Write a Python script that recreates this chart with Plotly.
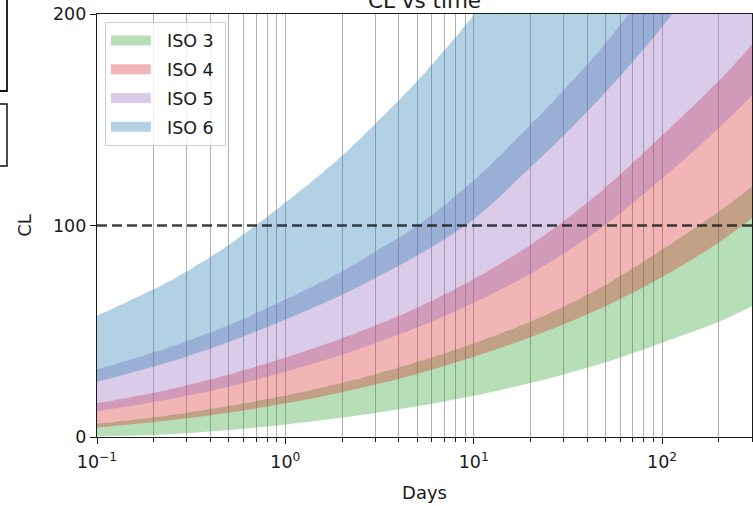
import plotly.graph_objects as go

# Exposure time in days (shared sampling for every band edge)
DAYS = [0.1, 0.2, 0.3, 0.5, 1, 2, 3, 5, 10, 20, 30, 50, 100, 200, 300]

# Lower / upper CL envelopes per ISO class
ISO3_LOW = [0.3, 1.0, 1.8, 3.3, 5.9, 9.2, 11.4, 14.5, 19.5, 25.5, 29.6, 35.3, 44.6, 54.5, 61.8]
ISO3_HIGH = [6.2, 9.25, 11.4, 14.5, 19.5, 25.5, 29.6, 35.3, 44.2, 54.5, 61.6, 71.8, 88.5, 106.5, 118.3]
ISO4_LOW = [4.45, 7.1, 8.9, 11.5, 15.9, 21.2, 24.8, 29.8, 37.9, 47.2, 53.3, 61.8, 75.6, 92.0, 103.4]
ISO4_HIGH = [15.8, 20.8, 24.3, 29.4, 37.5, 46.6, 52.6, 61.0, 74.6, 90.8, 102.0, 117.8, 142.5, 168.3, 185.5]
ISO5_LOW = [12.1, 16.5, 19.5, 23.8, 31.0, 38.9, 44.5, 51.8, 63.5, 77.2, 86.8, 100.4, 122.2, 146.1, 161.6]
ISO5_HIGH = [31.8, 39.9, 45.3, 52.8, 64.9, 78.3, 87.6, 99.8, 121.3, 147.5, 163.8, 186.0, 221.3, 262.0, 289.0]
ISO6_LOW = [26.0, 33.3, 38.1, 44.9, 55.5, 67.2, 75.2, 85.8, 103.0, 127.5, 142.5, 163.0, 194.0, 230.1, 253.4]
ISO6_HIGH = [57.2, 69.8, 78.3, 90.7, 110.8, 132.9, 148.0, 168.1, 199.5, 236.2, 261.0, 295.0, 350.0, 413.7, 456.6]

BAND_NAMES = ["ISO 3", "ISO 4", "ISO 5", "ISO 6"]
BAND_LOWS = [ISO3_LOW, ISO4_LOW, ISO5_LOW, ISO6_LOW]
BAND_HIGHS = [ISO3_HIGH, ISO4_HIGH, ISO5_HIGH, ISO6_HIGH]
BAND_RGB = [(44, 160, 44), (214, 39, 40), (148, 103, 189), (31, 119, 180)]
ALPHA = 0.34

THRESHOLD = 100
X_MAJOR = [0.1, 1, 10, 100]
X_MAJOR_TEXT = ["10<sup>\u22121</sup>", "10<sup>0</sup>", "10<sup>1</sup>", "10<sup>2</sup>"]
X_MINOR = [m * 10.0 ** e for e in range(-1, 3) for m in range(2, 10) if m * 10.0 ** e <= 300]
Y_TICKS = [0, 100, 200]

FONT = "DejaVu Sans"
INK = "#1a1a1a"
PAD = "\u00a0\u00a0"  # extra gap between legend swatch and label

fig = go.Figure()

for name, lo, hi, rgb in zip(BAND_NAMES, BAND_LOWS, BAND_HIGHS, BAND_RGB):
    fill = f"rgba({rgb[0]},{rgb[1]},{rgb[2]},{ALPHA})"
    edge = f"rgba({rgb[0]},{rgb[1]},{rgb[2]},0.14)"
    fig.add_trace(go.Scatter(
        x=DAYS, y=lo, mode="lines",
        line=dict(width=0, shape="spline", smoothing=1.0),
        showlegend=False, hoverinfo="skip",
    ))
    fig.add_trace(go.Scatter(
        x=DAYS, y=hi, mode="lines", name=name,
        line=dict(width=1, color=edge, dash="dash", shape="spline", smoothing=1.0),
        fill="tonexty", fillcolor=fill, showlegend=False,
    ))

# Legend entries: a wide patch swatch per ISO class
for name, rgb in zip(BAND_NAMES, BAND_RGB):
    fig.add_trace(go.Scatter(
        x=[None], y=[None], mode="lines", name=PAD + name + "\u00a0",
        line=dict(width=13, color=f"rgba({rgb[0]},{rgb[1]},{rgb[2]},{ALPHA})"),
        legendgroup=name, hoverinfo="skip",
    ))

fig.add_shape(
    type="line", xref="paper", yref="y", x0=0, x1=1, y0=THRESHOLD, y1=THRESHOLD,
    line=dict(color="rgba(30,30,30,0.85)", width=2.4, dash="10px,5px"),
)

fig.update_layout(
    width=753, height=506,
    margin=dict(l=97, r=1, t=14, b=69),
    paper_bgcolor="white", plot_bgcolor="white",
    font=dict(family=FONT, size=18, color=INK),
    title=dict(text="CL vs time", x=0.5, xref="paper", xanchor="center",
               y=0.985, yref="container", yanchor="bottom",
               font=dict(family=FONT, size=21.5, color=INK)),
    showlegend=True,
    legend=dict(
        x=0.012, y=0.982, xanchor="left", yanchor="top",
        bgcolor="rgba(255,255,255,0.8)", bordercolor="#d0d0d0", borderwidth=1,
        font=dict(family=FONT, size=17.5, color=INK),
        itemwidth=40, tracegroupgap=3,
    ),
)

fig.update_xaxes(
    type="log", range=[-1, 2.4771],
    tickvals=X_MAJOR, ticktext=X_MAJOR_TEXT,
    ticks="outside", ticklen=6, tickwidth=1.2, tickcolor=INK,
    ticklabelstandoff=3,
    tickfont=dict(family=FONT, size=17.5, color=INK),
    showgrid=True, gridcolor="#b0b0b0", gridwidth=1,
    minor=dict(tickvals=X_MINOR, ticks="outside", ticklen=3.5, tickcolor=INK,
               showgrid=True, gridcolor="#b0b0b0", gridwidth=1),
    showline=True, linecolor=INK, linewidth=1.4, mirror=True,
    zeroline=False,
    title=dict(text="Days", standoff=15, font=dict(family=FONT, size=18)),
)
fig.update_yaxes(
    range=[0, 200], tickvals=Y_TICKS,
    ticks="outside", ticklen=6, tickwidth=1.2, tickcolor=INK,
    tickfont=dict(family=FONT, size=17.5, color=INK),
    showgrid=False, zeroline=False,
    showline=True, linecolor=INK, linewidth=1.4, mirror=True,
    title=dict(text="CL", standoff=16, font=dict(family=FONT, size=18)),
)

# Two partially visible framed boxes along the left border
fig.add_shape(type="rect", xref="paper", yref="paper",
              x0=-0.2, x1=-0.1374, y0=(437 - 91) / 423, y1=1.1,
              line=dict(color="#111", width=1.8))
fig.add_shape(type="rect", xref="paper", yref="paper",
              x0=-0.2, x1=-0.1374, y0=(437 - 166) / 423, y1=(437 - 104) / 423,
              line=dict(color="#111", width=1.5))

fig.write_html("out.html")
